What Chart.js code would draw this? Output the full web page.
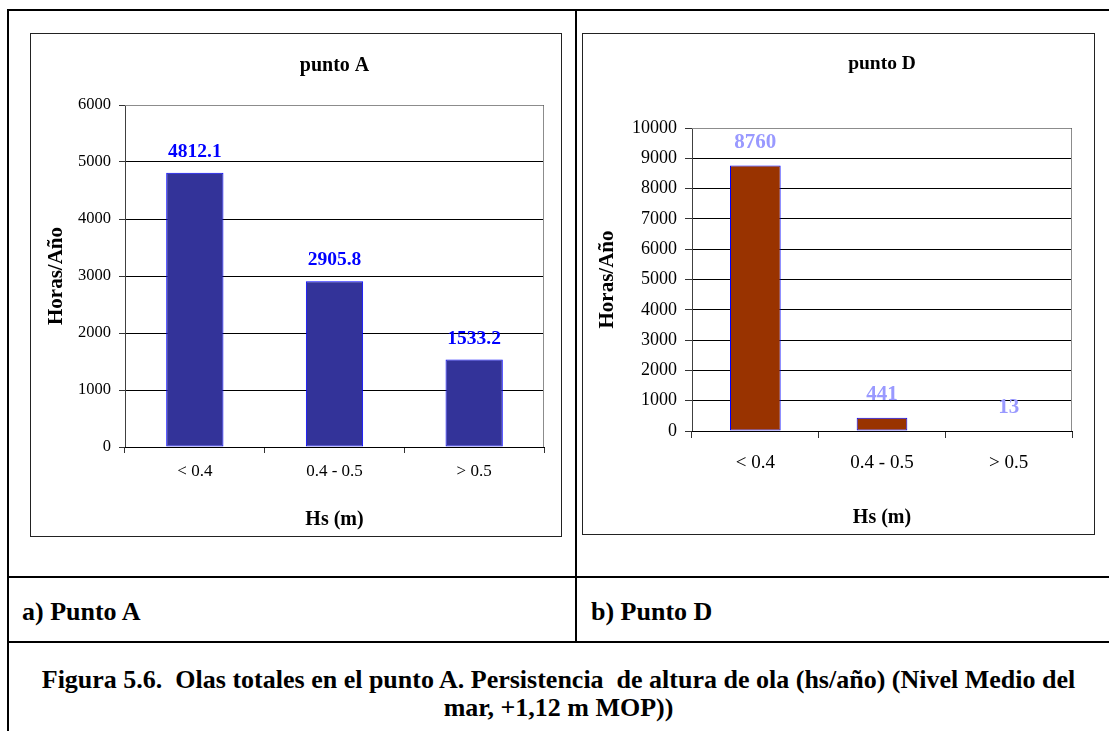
<!DOCTYPE html>
<html>
<head>
<meta charset="utf-8">
<script src="https://cdn.jsdelivr.net/npm/chart.js@4.4.0/dist/chart.umd.min.js"></script>
<style>
  body { margin: 0; background: #fff; width: 1109px; height: 731px; overflow: hidden; position: relative;
         font-family: "Liberation Serif", "Times New Roman", serif; color: #000; }
  .line { position: absolute; background: #000; }
  .frame { position: absolute; border: 1px solid #222; box-sizing: border-box; background: #fff; }
  .frame canvas { display: block; }
  .cell-label { position: absolute; font-weight: bold; font-size: 26px; line-height: 30px; white-space: nowrap; }
  .caption { position: absolute; left: 8px; width: 1101px; text-align: center; font-weight: bold;
             font-size: 26px; line-height: 28px; white-space: nowrap; }
</style>
</head>
<body>
<!-- table grid -->
<div class="line" style="left:7px;top:9px;width:1102px;height:2px"></div>
<div class="line" style="left:7px;top:9px;width:2px;height:722px"></div>
<div class="line" style="left:575px;top:9px;width:2px;height:633px"></div>
<div class="line" style="left:7px;top:576px;width:1102px;height:2px"></div>
<div class="line" style="left:7px;top:641px;width:1102px;height:2px"></div>

<div class="frame" style="left:30px;top:33px;width:532px;height:504px">
  <canvas id="chartA" width="530" height="502"></canvas>
</div>
<div class="frame" style="left:582px;top:33px;width:513px;height:502px">
  <canvas id="chartD" width="511" height="500"></canvas>
</div>

<div class="cell-label" style="left:22px;top:597px">a) Punto A</div>
<div class="cell-label" style="left:591px;top:597px">b) Punto D</div>
<div class="caption" style="top:666px">Figura 5.6.&nbsp; Olas totales en el punto A. Persistencia&nbsp; de altura de ola (hs/año) (Nivel Medio del<br>mar, +1,12 m MOP))</div>

<script>
    const FONT = '"Liberation Serif", "Times New Roman", serif';

    // --- DATA ---
    const categories = ['< 0.4', '0.4 - 0.5', '> 0.5'];
    const puntoAValues = [4812.1, 2905.8, 1533.2];
    const puntoDValues = [8760, 441, 13];
    const puntoAMax = 6000;
    const puntoDMax = 10000;
    const tickStep = 1000;

    // value labels above bars
    const barLabels = {
        id: 'barLabels',
        afterDatasetsDraw(chart, args, opts) {
            const ctx = chart.ctx;
            const meta = chart.getDatasetMeta(0);
            const values = chart.data.datasets[0].data;
            ctx.save();
            ctx.font = 'bold ' + opts.size + 'px ' + FONT;
            ctx.fillStyle = opts.color;
            ctx.textAlign = 'center';
            ctx.textBaseline = 'middle';
            meta.data.forEach((bar, i) => {
                ctx.fillText(String(values[i]), bar.x, bar.y - opts.offset);
            });
            ctx.restore();
        }
    };

    // grey plot-area border (top and right), like the Excel plot area
    const plotBorder = {
        id: 'plotBorder',
        beforeDatasetsDraw(chart, args, opts) {
            const { ctx, chartArea: a } = chart;
            ctx.save();
            ctx.strokeStyle = opts.color;
            ctx.lineWidth = 1;
            ctx.beginPath();
            ctx.moveTo(Math.round(a.left), Math.round(a.top) + 0.5);
            ctx.lineTo(Math.round(a.right) - 0.5, Math.round(a.top) + 0.5);
            ctx.lineTo(Math.round(a.right) - 0.5, Math.round(a.bottom));
            ctx.stroke();
            ctx.restore();
        }
    };

    function buildChart(canvas, s) {
        return new Chart(canvas, {
            type: 'bar',
            data: {
                labels: categories,
                datasets: [{
                    data: s.values,
                    backgroundColor: s.barColor,
                    borderColor: '#0000FF',
                    borderWidth: 1,
                    borderSkipped: false,
                    categoryPercentage: 1,
                    barPercentage: s.barPct
                }]
            },
            options: {
                responsive: false,
                animation: false,
                layout: { padding: { left: 0, right: s.padRight, top: 0, bottom: 0 } },
                plugins: {
                    legend: { display: false },
                    tooltip: { enabled: false },
                    title: {
                        display: true, text: s.title, fullSize: false, color: '#000',
                        font: { family: FONT, size: s.titleSize, weight: 'bold' },
                        padding: { top: s.titleTop, bottom: s.titleBottom }
                    },
                    barLabels: { color: s.labelColor, size: s.labelSize, offset: s.labelOffset },
                    plotBorder: { color: '#8c8c8c' }
                },
                scales: {
                    y: {
                        min: 0, max: s.max,
                        ticks: { stepSize: tickStep, color: '#000', padding: 8,
                                 callback: v => String(v),
                                 font: { family: FONT, size: s.yTickSize } },
                        grid: { color: '#000', tickColor: '#333', tickLength: s.tickLen },
                        border: { color: '#404040' },
                        title: { display: true, text: 'Horas/Año', color: '#000',
                                 font: { family: FONT, size: 21, weight: 'bold' },
                                 padding: { top: s.yTitlePad, bottom: 0 } },
                        afterFit(scale) { scale.width = s.yWidth; }
                    },
                    x: {
                        ticks: { color: '#000', padding: s.xTickPad, maxRotation: 0,
                                 font: { family: FONT, size: s.xTickSize } },
                        grid: { display: true, offset: true, drawOnChartArea: false,
                                tickLength: s.tickLen, color: '#333' },
                        border: { color: '#000' },
                        title: { display: true, text: 'Hs (m)', color: '#000',
                                 font: { family: FONT, size: 20, weight: 'bold' },
                                 padding: { top: 0, bottom: s.xTitlePad } },
                        afterFit(scale) { scale.height = s.xHeight; }
                    }
                }
            },
            plugins: [barLabels, plotBorder]
        });
    }

    buildChart(document.getElementById('chartA'), {
        values: puntoAValues, max: puntoAMax, title: 'punto A',
        barColor: '#333399', barPct: 0.41,
        labelColor: '#0000FF', labelSize: 19.5, labelOffset: 21,
        titleSize: 20, titleTop: 19.5, titleBottom: 27.5,
        padRight: 17, yWidth: 94, xHeight: 89, tickLen: 6,
        yTickSize: 16.5, xTickSize: 17, xTickPad: 8.8, yTitlePad: 13.4, xTitlePad: 4
    });

    buildChart(document.getElementById('chartD'), {
        values: puntoDValues, max: puntoDMax, title: 'punto D',
        barColor: '#993300', barPct: 0.4,
        labelColor: '#9999FF', labelSize: 21, labelOffset: 23,
        titleSize: 19.5, titleTop: 18.3, titleBottom: 52.3,
        padRight: 22, yWidth: 109, xHeight: 103, tickLen: 7,
        yTickSize: 18, xTickSize: 19, xTickPad: 13.6, yTitlePad: 12.4, xTitlePad: 3.7
    });
</script>
</body>
</html>
